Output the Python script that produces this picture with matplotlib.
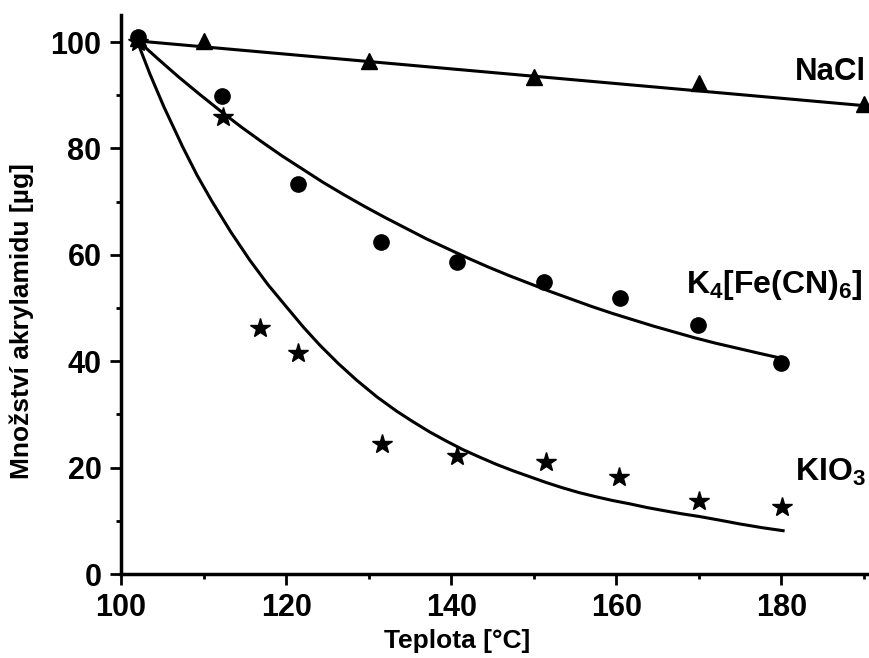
import matplotlib
matplotlib.use("Agg")
import matplotlib.pyplot as plt
from matplotlib.ticker import MultipleLocator

plt.rcParams['font.family'] = ['Liberation Sans', 'DejaVu Sans']
plt.rcParams['mathtext.default'] = 'regular'

# --- data ---
nacl_x = [102, 110, 130, 150, 170, 190]
nacl_y = [100.8, 100.2, 96.4, 93.5, 92.3, 88.3]
nacl_fit_x = [102, 190.3]
nacl_fit_y = [100.2, 88.0]

k4_x = [102, 112.2, 121.4, 131.5, 140.7, 151.3, 160.4, 169.9, 180.0]
k4_y = [101.0, 89.9, 73.3, 62.4, 58.7, 54.9, 51.8, 46.8, 39.6]
k4_fit_x = [102, 104.5, 107, 109.5, 112, 114.5, 117, 119.5, 122, 124.5, 127, 129.5, 132, 134.5, 137,
            139.5, 142, 144.5, 147, 149.5, 152, 154.5, 157, 159.5, 162, 164.5, 167, 169.5, 172,
            174.5, 177, 180.4]
k4_fit_y = [100.3, 96.8, 93.4, 90.2, 87.1, 84.1, 81.3, 78.6, 76.1, 73.6, 71.3, 69.1, 67.0, 65.0, 63.0,
            61.2, 59.4, 57.7, 56.1, 54.6, 53.1, 51.7, 50.3, 49.0, 47.8, 46.6, 45.5, 44.4, 43.4,
            42.5, 41.6, 40.4]

kio3_x = [102, 112.3, 116.8, 121.5, 131.6, 140.7, 151.5, 160.3, 170.0, 180.1]
kio3_y = [100.0, 85.9, 46.3, 41.6, 24.5, 22.1, 21.0, 18.3, 13.8, 12.6]
kio3_fit_x = [102, 103.5, 105.2, 107.5, 109.2, 111.0, 113.3, 115.6, 117.8, 120.1, 122.1, 124.1, 126.3,
              128.5, 131.0, 133.4, 135.4, 137.4, 139.4, 141.4, 143.4, 145.5, 147.5, 149.5, 151.5,
              153.5, 155.5, 157.6, 159.6, 161.6, 163.7, 165.8, 168.0, 170.1, 172.6, 175.0, 177.7, 180.4]
kio3_fit_y = [100.0, 94.0, 87.8, 80.2, 75.0, 70.1, 64.3, 59.0, 54.4, 50.1, 46.4, 43.0, 39.6,
              36.5, 33.3, 30.6, 28.6, 26.7, 25.0, 23.4, 22.0, 20.6, 19.4, 18.3, 17.2,
              16.2, 15.3, 14.5, 13.8, 13.2, 12.5, 11.9, 11.3, 10.8, 10.1, 9.4, 8.7, 8.1]

x_ticks = [100, 120, 140, 160, 180]
y_ticks = [0, 20, 40, 60, 80, 100]

W, H = 869, 658
fig = plt.figure(figsize=(W / 100, H / 100), dpi=100)
ax = fig.add_axes([121 / W, 84 / H, 747 / W, 558.6 / H])

lw = 2.2
ax.plot(nacl_fit_x, nacl_fit_y, color='black', lw=lw, zorder=2, solid_capstyle='butt')
ax.plot(k4_fit_x, k4_fit_y, color='black', lw=lw, zorder=2, solid_capstyle='butt')
ax.plot(kio3_fit_x, kio3_fit_y, color='black', lw=lw, zorder=2, solid_capstyle='butt')

ax.plot(nacl_x, nacl_y, ls='none', marker='^', ms=12, color='black', clip_on=False, zorder=3)
ax.plot(k4_x, k4_y, ls='none', marker='o', ms=11, color='black', clip_on=False, zorder=3)
ax.plot(kio3_x, kio3_y, ls='none', marker='*', ms=15, color='black', clip_on=False, zorder=3)

ax.set_xlim(100, 190.5)
ax.set_ylim(0, 105)
ax.set_xticks(x_ticks)
ax.set_yticks(y_ticks)
ax.xaxis.set_minor_locator(MultipleLocator(10))
ax.yaxis.set_minor_locator(MultipleLocator(10))

for s in ['top', 'right']:
    ax.spines[s].set_visible(False)
for s in ['left', 'bottom']:
    ax.spines[s].set_linewidth(2.5)

ax.tick_params(which='major', length=8, width=2, labelsize=22, pad=6)
ax.tick_params(which='minor', length=3.5, width=2)
for lab in ax.get_xticklabels() + ax.get_yticklabels():
    lab.set_fontweight('bold')

ax.set_xlabel('Teplota [°C]', fontsize=19, fontweight='bold')
ax.xaxis.set_label_coords(0.45, -0.098)
ax.set_ylabel('Množství akrylamidu [µg]', fontsize=19, fontweight='bold')
ax.yaxis.set_label_coords(-0.117, 0.453)

ax.text(181.6, 94.4, 'NaCl', fontsize=22.5, fontweight='bold', va='center', ha='left')
ax.text(168.5, 54.3, r'K$_4$[Fe(CN)$_6$]', fontsize=23, fontweight='bold', va='center', ha='left')
ax.text(181.6, 19.0, r'KIO$_3$', fontsize=23, fontweight='bold', va='center', ha='left')

fig.savefig('out.png', dpi=100)
